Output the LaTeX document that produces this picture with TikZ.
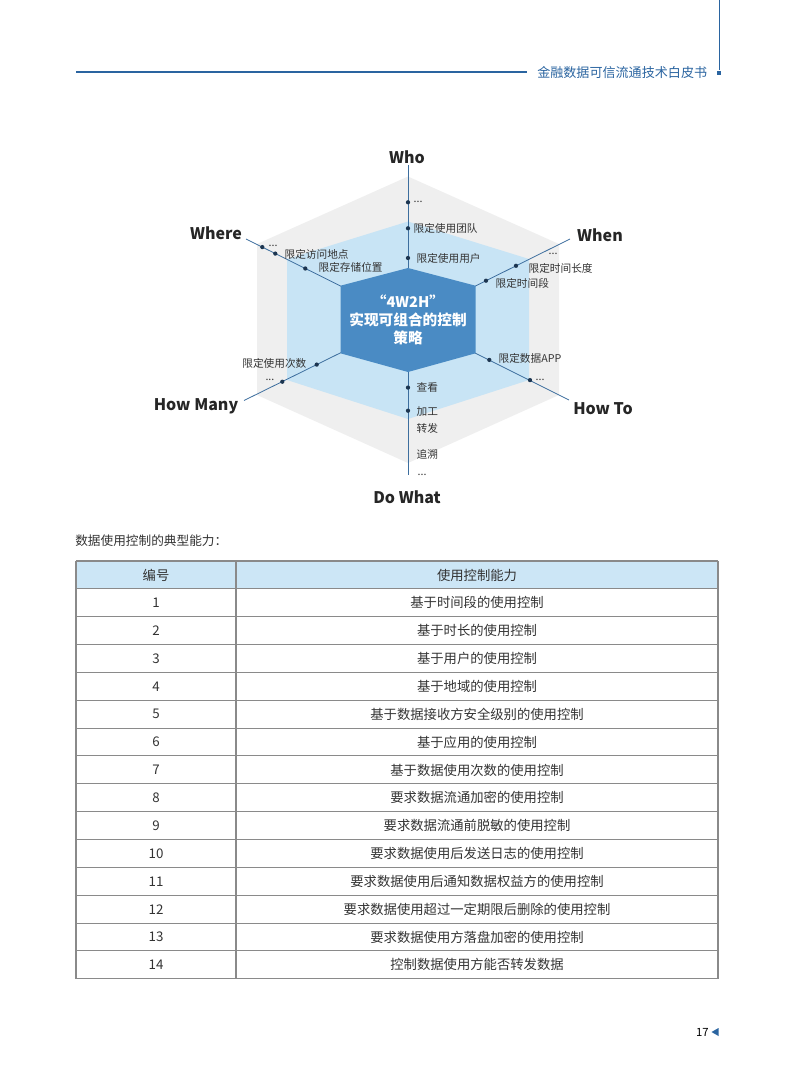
\documentclass[tikz,border=0pt]{standalone}
\usepackage{fontspec}
\setmainfont{Noto Sans CJK SC}
\usepackage{xcolor}
\usepackage{tikz}
\usetikzlibrary{positioning, calc}

\definecolor{hexgray}{HTML}{EFEFEF}
\definecolor{hexlight}{HTML}{C8E4F5}
\definecolor{hexdark}{HTML}{4A8BC4}
\definecolor{axisblue}{HTML}{3D6E9E}
\definecolor{dotnavy}{HTML}{1C3550}
\definecolor{textgray}{HTML}{333333}
\definecolor{headblue}{HTML}{2A64A0}
\definecolor{tablehead}{HTML}{CCE6F6}
\definecolor{rulegray}{HTML}{8A8A8A}

\begin{document}
\begin{tikzpicture}[x=0.75pt, y=-0.75pt,
    axis/.style={draw=axisblue, line width=0.6pt},
    dotnode/.style={circle, fill=dotnavy, inner sep=0pt, minimum size=3.2pt},
    item/.style={font=\fontsize{8}{9}\selectfont, text=textgray, inner sep=1pt},
    dim/.style={font=\fontsize{12}{14}\selectfont\bfseries, text=black!85},
    core/.style={font=\fontsize{11}{13.5}\selectfont\bfseries, text=white, align=center},
    cell/.style={font=\fontsize{10}{12}\selectfont, text=textgray},
    rule/.style={draw=rulegray, line width=0.8pt}
]
\useasboundingbox (0,0) rectangle (793,1077);

% header
\coordinate (hl) at (76,72);
\coordinate (hr) at (527,72);
\draw[headblue, line width=1.1pt] (hl) -- (hr);
\node[anchor=west, font=\fontsize{9.8}{11}\selectfont, text=headblue, inner sep=0pt] (title) at (537,72) {金融数据可信流通技术白皮书};
\coordinate (vt) at (719,0);
\node[fill=headblue, inner sep=0pt, minimum size=3.5pt] (mark) at (719,73) {};
\draw[headblue, line width=0.7pt] (vt) -- (mark);

% hexagons
\fill[hexgray] (408,176.5) -- (559,244) -- (559,395) -- (408,463) -- (257,395) -- (257,244) -- cycle;
\fill[hexlight] (408,221.5) -- (529,259) -- (529,380) -- (408,419) -- (287,380) -- (287,259) -- cycle;

\coordinate (c) at (408,319.5);
\coordinate (who) at (408,165);
\coordinate (when) at (570,239);
\coordinate (howto) at (569,400);
\coordinate (dowhat) at (408,475);
\coordinate (howmany) at (244,400.5);
\coordinate (where) at (246,239);
\foreach \e in {who, when, howto, dowhat, howmany, where}
    \draw[axis] (c) -- (\e);

\fill[hexdark] (408,268) -- (475.5,285.7) -- (475.5,353.3) -- (408,372) -- (340.5,353.3) -- (340.5,285.7) -- cycle;
\node[core] (strategy) at (408,320) {“4W2H”\\实现可组合的控制\\策略};

\node[dim] (whoL) at (407,157) {Who};
\node[dim] (whenL) at (600,235) {When};
\node[dim] (whereL) at (216,233) {Where};
\node[dim] (howmanyL) at (196,406) {How Many};
\node[dim] (howtoL) at (603,409) {How To};
\node[dim] (dowhatL) at (407,497) {Do What};

% who
\node[dotnode] (w1) at (408,202.3) {};
\node[dotnode] (w2) at (408,228.3) {};
\node[dotnode] (w3) at (408,258) {};
\node[item, anchor=west] at (412,201.5) {...};
\node[item, anchor=west] at (412,228.5) {限定使用团队};
\node[item, anchor=west] at (415,258) {限定使用用户};

% when
\node[dotnode] (n1) at (516,265.8) {};
\node[dotnode] (n2) at (486,280.7) {};
\node[item, anchor=west] at (547,254) {...};
\node[item, anchor=west] at (527,268) {限定时间长度};
\node[item, anchor=west] at (494,283) {限定时间段};

% where
\node[dotnode] (r1) at (262.3,247.1) {};
\node[dotnode] (r2) at (275.3,253.6) {};
\node[dotnode] (r3) at (305.3,268.5) {};
\node[item, anchor=west] at (267,246) {...};
\node[item, anchor=west] at (283,254) {限定访问地点};
\node[item, anchor=west] at (317,267) {限定存储位置};

% how many
\node[dotnode] (m1) at (316.7,364.6) {};
\node[dotnode] (m2) at (282.3,381.7) {};
\node[item, anchor=east] at (308,363) {限定使用次数};
\node[item, anchor=east] at (276,380) {...};

% how to
\node[dotnode] (t1) at (489.3,359.9) {};
\node[dotnode] (t2) at (530,380.1) {};
\node[item, anchor=west] at (497,358) {限定数据APP};
\node[item, anchor=west] at (534,380) {...};

% do what
\node[dotnode] (d1) at (408,387.6) {};
\node[dotnode] (d2) at (408,410.7) {};
\node[item, anchor=west] at (415,387) {查看};
\node[item, anchor=west] at (415,411.5) {加工};
\node[item, anchor=west] at (415,428.5) {转发};
\node[item, anchor=west] at (415,454) {追溯};
\node[item, anchor=west] at (416,475) {...};

% table
\node[anchor=west, font=\fontsize{9.5}{11}\selectfont, text=textgray, inner sep=0pt] (intro) at (75,541) {数据使用控制的典型能力：};
\fill[tablehead] (76,561) rectangle (718,588.85);
\foreach \k in {0,...,15}
    \draw[rule] (76,561+\k*27.85) -- (718,561+\k*27.85);
\foreach \xx in {76,236,718}
    \draw[rule] (\xx,561) -- (\xx,978.75);
\node[cell] (numH) at (156,575) {编号};
\node[cell] (capH) at (477,575) {使用控制能力};
\foreach \txt [count=\i] in {
    基于时间段的使用控制,
    基于时长的使用控制,
    基于用户的使用控制,
    基于地域的使用控制,
    基于数据接收方安全级别的使用控制,
    基于应用的使用控制,
    基于数据使用次数的使用控制,
    要求数据流通加密的使用控制,
    要求数据流通前脱敏的使用控制,
    要求数据使用后发送日志的使用控制,
    要求数据使用后通知数据权益方的使用控制,
    要求数据使用超过一定期限后删除的使用控制,
    要求数据使用方落盘加密的使用控制,
    控制数据使用方能否转发数据}{
    \node[cell] (num\i) at (156,575+\i*27.85) {\i};
    \node[cell] (cap\i) at (477,575+\i*27.85) {\txt};
}

% page number
\node[anchor=east, font=\fontsize{8.5}{10}\selectfont, text=black, inner sep=0pt] (page) at (709,1032) {17};
\fill[headblue] (711.5,1032) -- (718.5,1028) -- (718.5,1036) -- cycle;
\end{tikzpicture}
\end{document}
